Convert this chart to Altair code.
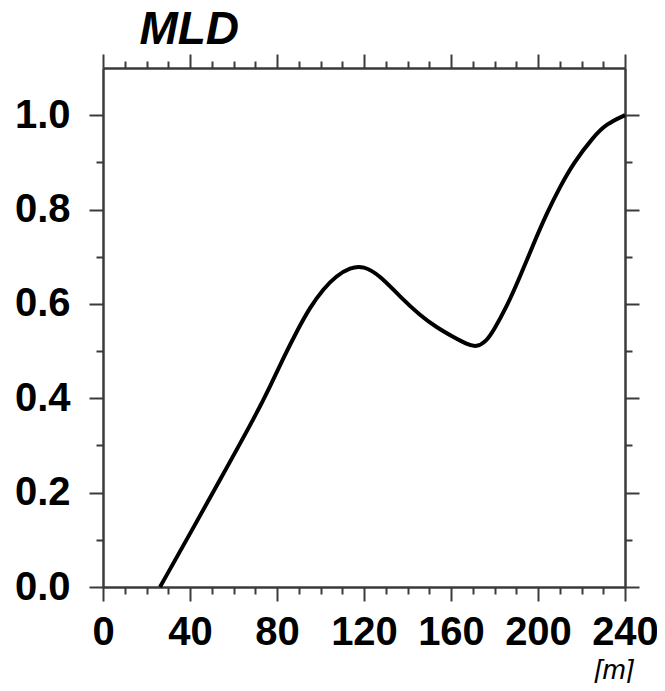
import altair as alt
import pandas as pd

# data
depth = [26.2, 40, 53.8, 69.9, 76.8, 82.9, 89.1, 95.2, 101.3, 107.4, 113.6, 119.7,
         127.4, 136.6, 145.7, 153.4, 161, 167, 171.8, 176, 179.4, 185.6, 191.7,
         197.8, 204, 210.1, 216.2, 225.4, 231.6, 240]
value = [0.0, 0.113, 0.227, 0.361, 0.425, 0.485, 0.542, 0.593, 0.632, 0.660, 0.677,
         0.681, 0.660, 0.615, 0.576, 0.550, 0.530, 0.515, 0.508, 0.520, 0.542, 0.594,
         0.657, 0.726, 0.792, 0.848, 0.898, 0.954, 0.982, 1.0]

x_ticks = list(range(0, 250, 10))
y_ticks = [0.0, 0.1, 0.2, 0.3, 0.4, 0.5, 0.6, 0.7, 0.8, 0.9, 1.0]

df = pd.DataFrame({"depth": depth, "value": value})

FONT = "Liberation Sans"
DARK = "#3a3a3a"

xs = alt.Scale(domain=[0, 240], nice=False, zero=False)
ys = alt.Scale(domain=[0, 1.1], nice=False, zero=False)

x_size = {"condition": {"test": "datum.value % 40 === 0", "value": 14}, "value": 7}
y_size = {"condition": {"test": "round(datum.value * 10) % 2 === 0", "value": 14}, "value": 7}

common = dict(domainColor=DARK, domainWidth=2.5, tickColor=DARK, tickWidth=2,
              grid=False, labelOverlap=False, labelFlush=False, labelBound=False)

base = alt.Chart(df).mark_line(color="black", strokeWidth=4, interpolate="basis")

main = base.encode(
    x=alt.X("depth:Q", scale=xs, axis=alt.Axis(
        orient="bottom", values=x_ticks, tickSize=x_size,
        labelExpr="datum.value % 40 === 0 ? datum.label : ''",
        labelFont=FONT, labelFontSize=40, labelFontWeight="bold", labelColor="black",
        labelPadding=11,
        title="[m]", titleFont=FONT, titleFontSize=28, titleFontStyle="italic",
        titleFontWeight="normal", titleColor="black", titleAlign="right",
        titleAnchor="end", titleX=530, titleY=91, titleBaseline="alphabetic",
        **common)),
    y=alt.Y("value:Q", scale=ys, axis=alt.Axis(
        orient="left", values=y_ticks, tickSize=y_size,
        labelExpr="round(datum.value * 10) % 2 === 0 ? format(datum.value, '.1f') : ''",
        labelFont=FONT, labelFontSize=40, labelFontWeight="bold", labelColor="black",
        labelPadding=19, title=None, **common)),
)

frame = base.mark_line(opacity=0).encode(
    x=alt.X("depth:Q", scale=xs, axis=alt.Axis(
        orient="top", values=x_ticks, tickSize=x_size, labels=False, title=None, **common)),
    y=alt.Y("value:Q", scale=ys, axis=alt.Axis(
        orient="right", values=y_ticks, tickSize=y_size, labels=False, title=None, **common)),
)

chart = alt.layer(main, frame).resolve_scale(
    x="independent", y="independent"
).properties(
    width=522, height=519,
    autosize=alt.AutoSizeParams(type="none"),
    padding={"left": 95, "top": 60, "right": 32, "bottom": 96},
    title=alt.TitleParams("MLD", anchor="start", dx=125, offset=-1, fontSize=46,
                          font=FONT, fontStyle="italic", fontWeight="bold", color="black"),
).configure_view(stroke=None)

chart.save("out.html", embed_options={"renderer": "svg", "actions": False})
